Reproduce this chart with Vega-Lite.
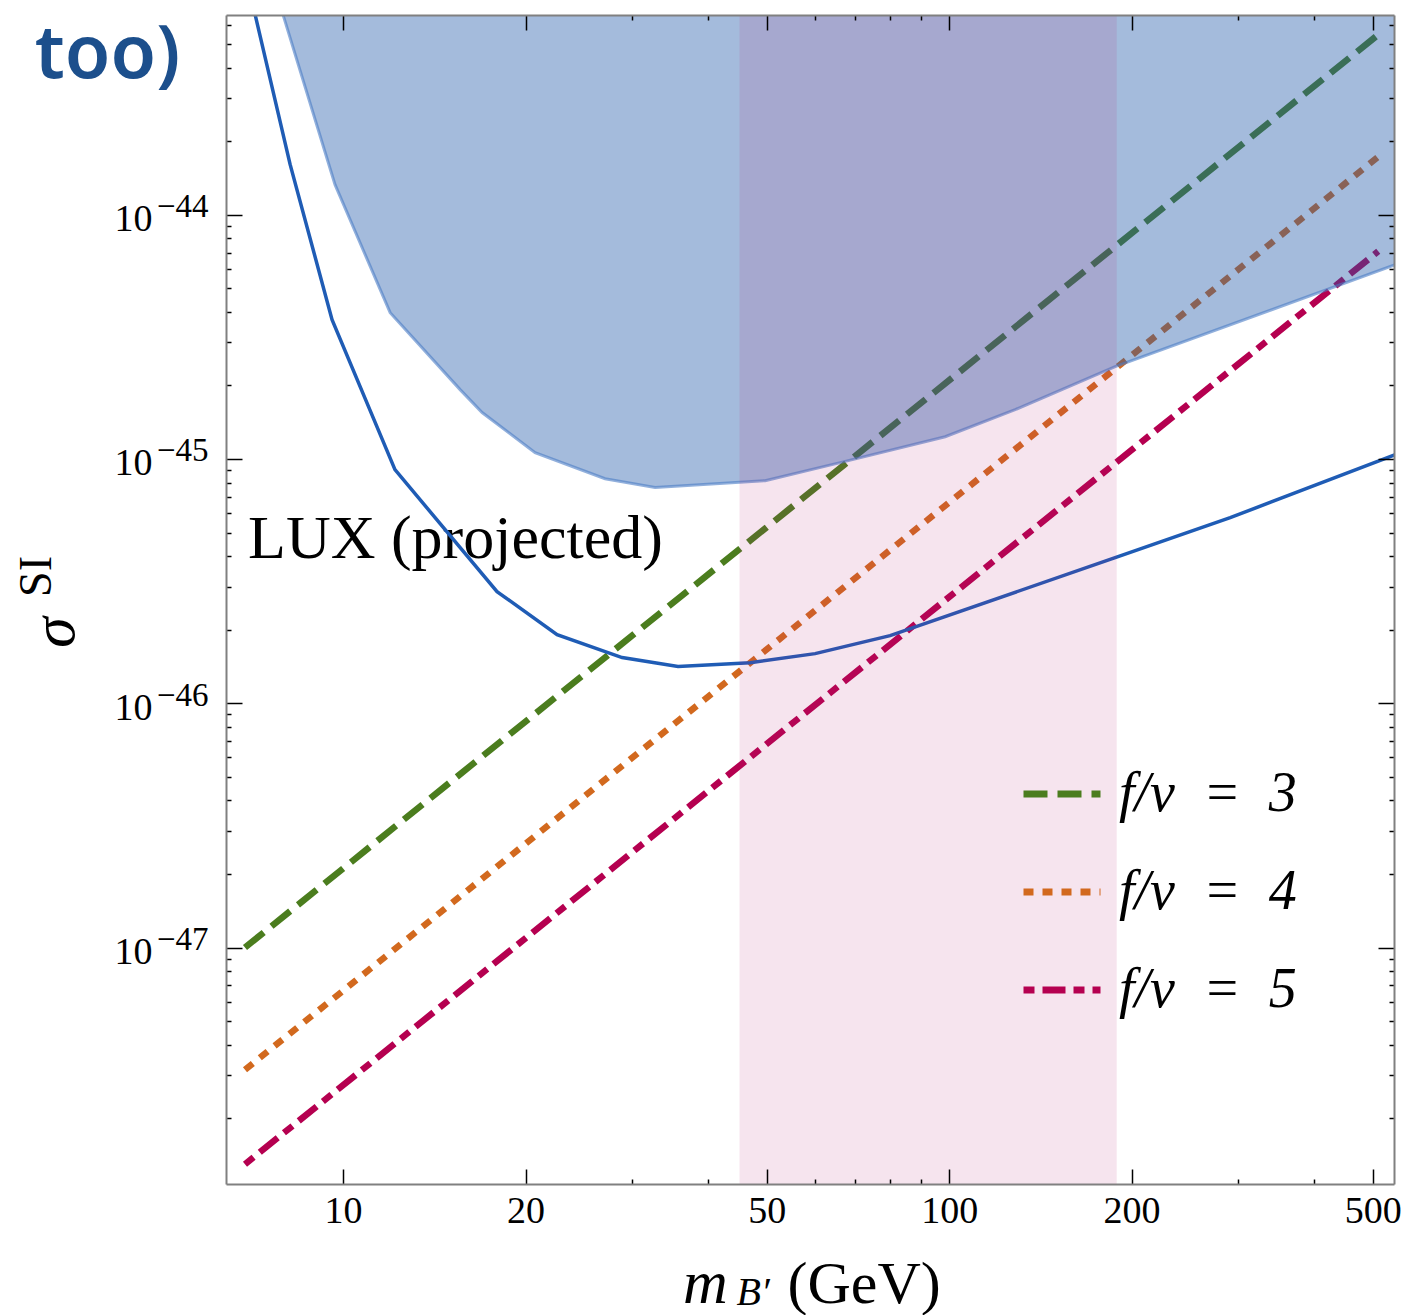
{
  "$schema": "https://vega.github.io/schema/vega-lite/v6.json",
  "width": 1168,
  "height": 1169,
  "autosize": {"type": "none"},
  "padding": {"left": 226, "top": 15, "right": 12, "bottom": 131},
  "background": "white",
  "config": {
    "view": {"stroke": null},
    "font": "Liberation Serif",
    "axis": {"grid": false},
    "legend": {"labelFont": "Liberation Serif", "labelFontSize": 56, "labelFontStyle": "italic", "labelColor": "black"}
  },
  "datasets": {
    "relic": [
      {"m": 6.89, "sigma": 1.0e-47, "series": "f/v\u2002=\u20023"},
      {"m": 510.5, "sigma": 5.46e-44, "series": "f/v\u2002=\u20023"},
      {"m": 6.89, "sigma": 3.16e-48, "series": "f/v\u2002=\u20024"},
      {"m": 510.5, "sigma": 1.726e-44, "series": "f/v\u2002=\u20024"},
      {"m": 6.89, "sigma": 1.297e-48, "series": "f/v\u2002=\u20025"},
      {"m": 510.5, "sigma": 7.08e-45, "series": "f/v\u2002=\u20025"}
    ],
    "bound": [
      {"m": 7.55, "sigma": 1.007e-43},
      {"m": 7.96, "sigma": 6.59e-44},
      {"m": 9.70, "sigma": 1.327e-44},
      {"m": 11.96, "sigma": 3.97e-45},
      {"m": 15.60, "sigma": 1.923e-45},
      {"m": 16.96, "sigma": 1.549e-45},
      {"m": 20.74, "sigma": 1.062e-45},
      {"m": 27.06, "sigma": 8.30e-46},
      {"m": 32.72, "sigma": 7.64e-46},
      {"m": 49.7, "sigma": 8.15e-46},
      {"m": 66.1, "sigma": 9.66e-46},
      {"m": 98.5, "sigma": 1.233e-45},
      {"m": 128.5, "sigma": 1.592e-45},
      {"m": 187.9, "sigma": 2.388e-45},
      {"m": 544.5, "sigma": 6.24e-45}
    ],
    "lux": [
      {"m": 6.88, "sigma": 1.007e-43},
      {"m": 7.16, "sigma": 6.59e-44},
      {"m": 8.18, "sigma": 1.603e-44},
      {"m": 9.59, "sigma": 3.72e-45},
      {"m": 12.18, "sigma": 9.04e-46},
      {"m": 17.95, "sigma": 2.864e-46},
      {"m": 22.55, "sigma": 1.91e-46},
      {"m": 28.87, "sigma": 1.538e-46},
      {"m": 35.7, "sigma": 1.413e-46},
      {"m": 46.96, "sigma": 1.466e-46},
      {"m": 60.1, "sigma": 1.596e-46},
      {"m": 79.9, "sigma": 1.892e-46},
      {"m": 187.9, "sigma": 3.945e-46},
      {"m": 290.9, "sigma": 5.75e-46},
      {"m": 544.5, "sigma": 1.042e-45}
    ],
    "band": [{"lo": 45.1, "hi": 189}],
    "luxLabel": [{"m": 6.97, "sigma": 3.945e-46, "text": "LUX (projected)"}],
    "note": [{"m": 3.10, "sigma": 3.64e-44, "text": "too)"}]
  },
  "layer": [
    {
      "data": {"name": "relic"},
      "mark": {"type": "line", "strokeWidth": 6.5, "strokeCap": "butt", "clip": true},
      "encoding": {
        "x": {
          "field": "m", "type": "quantitative",
          "scale": {"type": "log", "domain": [6.41, 542], "nice": false, "zero": false},
          "axis": {
            "orient": "bottom",
            "values": [10, 20, 30, 40, 50, 60, 70, 80, 90, 100, 200, 300, 400, 500],
            "labelExpr": "indexof([10, 20, 50, 100, 200, 500], datum.value) >= 0 ? format(datum.value, 'd') : ''",
            "tickSize": {"condition": {"test": "indexof([10, 20, 50, 100, 200, 500], datum.value) >= 0", "value": -15}, "value": -5},
            "tickColor": "black", "tickWidth": 1.5,
            "domainColor": "#808080", "domainWidth": 2,
            "labelFont": "Liberation Serif", "labelFontSize": 38, "labelColor": "black",
            "labelPadding": 23, "labelFlush": false, "labelOverlap": false, "labelBound": false,
            "title": "m", "titleFont": "Liberation Serif", "titleFontSize": 62, "titleFontStyle": "italic",
            "titleFontWeight": "normal", "titleColor": "black",
            "titleX": 479, "titleY": 118.5, "titleAlign": "center", "titleBaseline": "alphabetic",
            "zindex": 1
          }
        },
        "y": {
          "field": "sigma", "type": "quantitative",
          "scale": {"type": "log", "domain": [1.076e-48, 6.57e-44], "nice": false, "zero": false},
          "axis": {
            "orient": "left",
            "values": [2e-48, 3e-48, 4e-48, 5e-48, 6e-48, 7e-48, 8e-48, 9e-48,
                       1e-47, 2e-47, 3e-47, 4e-47, 5e-47, 6e-47, 7e-47, 8e-47, 9e-47,
                       1e-46, 2e-46, 3e-46, 4e-46, 5e-46, 6e-46, 7e-46, 8e-46, 9e-46,
                       1e-45, 2e-45, 3e-45, 4e-45, 5e-45, 6e-45, 7e-45, 8e-45, 9e-45,
                       1e-44, 2e-44, 3e-44, 4e-44, 5e-44, 6e-44],
            "labelExpr": "abs(log(datum.value) / LN10 - round(log(datum.value) / LN10)) < 0.001 ? '10' : ''",
            "tickSize": {"condition": {"test": "abs(log(datum.value) / LN10 - round(log(datum.value) / LN10)) < 0.001", "value": -16}, "value": -5},
            "tickColor": "black", "tickWidth": 1.5,
            "domainColor": "#808080", "domainWidth": 2,
            "labelFont": "Liberation Serif", "labelFontSize": 38, "labelColor": "black",
            "labelAlign": "right", "labelBaseline": "middle",
            "labelPadding": 90, "labelOffset": 5,
            "labelFlush": false, "labelOverlap": false, "labelBound": false,
            "title": "σ", "titleFont": "Liberation Serif", "titleFontSize": 62, "titleFontStyle": "italic",
            "titleFontWeight": "normal", "titleColor": "black", "titleAngle": 270,
            "titleX": -153, "titleY": 617, "titleAlign": "center", "titleBaseline": "alphabetic",
            "zindex": 1
          }
        },
        "color": {
          "field": "series", "type": "nominal",
          "scale": {"domain": ["f/v\u2002=\u20023", "f/v\u2002=\u20024", "f/v\u2002=\u20025"], "range": ["#4b7d1e", "#d2691e", "#b50050"]},
          "legend": {
            "title": null, "orient": "none", "legendX": 794, "legendY": 737,
            "symbolType": "stroke", "symbolSize": 5929, "symbolStrokeWidth": 7,
            "labelFont": "Liberation Serif", "labelFontSize": 56, "labelFontStyle": "italic",
            "labelColor": "black", "labelOffset": 15, "rowPadding": 28, "padding": 0,
            "labelLimit": 400, "symbolOpacity": 1
          }
        },
        "strokeDash": {
          "field": "series", "type": "nominal",
          "scale": {"domain": ["f/v\u2002=\u20023", "f/v\u2002=\u20024", "f/v\u2002=\u20025"], "range": [[24, 10], [10, 9], [11, 8, 23, 8]]},
          "legend": {
            "title": null, "orient": "none", "legendX": 794, "legendY": 737,
            "symbolType": "stroke", "symbolSize": 5929, "symbolStrokeWidth": 7,
            "labelFont": "Liberation Serif", "labelFontSize": 56, "labelFontStyle": "italic",
            "labelColor": "black", "labelOffset": 15, "rowPadding": 28, "padding": 0,
            "labelLimit": 400, "symbolOpacity": 1
          }
        }
      }
    },
    {
      "data": {"name": "bound"},
      "mark": {"type": "area", "color": "#235baa", "opacity": 0.41, "clip": true},
      "encoding": {
        "x": {
          "field": "m", "type": "quantitative",
          "scale": {"type": "log", "domain": [6.41, 542], "nice": false, "zero": false},
          "axis": {
            "orient": "top",
            "values": [10, 20, 30, 40, 50, 60, 70, 80, 90, 100, 200, 300, 400, 500],
            "labels": false, "title": null,
            "tickSize": {"condition": {"test": "indexof([10, 20, 50, 100, 200, 500], datum.value) >= 0", "value": -15}, "value": -5},
            "tickColor": "black", "tickWidth": 1.5,
            "domainColor": "#808080", "domainWidth": 2,
            "zindex": 1
          }
        },
        "y": {
          "field": "sigma", "type": "quantitative",
          "scale": {"type": "log", "domain": [1.076e-48, 6.57e-44], "nice": false, "zero": false},
          "axis": {
            "orient": "right",
            "values": [2e-48, 3e-48, 4e-48, 5e-48, 6e-48, 7e-48, 8e-48, 9e-48,
                       1e-47, 2e-47, 3e-47, 4e-47, 5e-47, 6e-47, 7e-47, 8e-47, 9e-47,
                       1e-46, 2e-46, 3e-46, 4e-46, 5e-46, 6e-46, 7e-46, 8e-46, 9e-46,
                       1e-45, 2e-45, 3e-45, 4e-45, 5e-45, 6e-45, 7e-45, 8e-45, 9e-45,
                       1e-44, 2e-44, 3e-44, 4e-44, 5e-44, 6e-44],
            "labels": false, "title": null,
            "tickSize": {"condition": {"test": "abs(log(datum.value) / LN10 - round(log(datum.value) / LN10)) < 0.001", "value": -16}, "value": -5},
            "tickColor": "black", "tickWidth": 1.5,
            "domainColor": "#808080", "domainWidth": 2,
            "zindex": 1
          }
        },
        "y2": {"datum": 1e-42}
      }
    },
    {
      "data": {"name": "bound"},
      "mark": {"type": "line", "color": "#4a7cc4", "opacity": 0.6, "strokeWidth": 3, "clip": true},
      "encoding": {
        "x": {
          "field": "m", "type": "quantitative",
          "scale": {"type": "log", "domain": [6.41, 542], "nice": false, "zero": false},
          "axis": {
            "orient": "bottom", "values": [], "labels": false, "ticks": false, "domain": false,
            "title": "(GeV)", "titleFont": "Liberation Serif", "titleFontSize": 60,
            "titleFontWeight": "normal", "titleColor": "black",
            "titleX": 561, "titleY": 118.5, "titleAlign": "left", "titleBaseline": "alphabetic"
          }
        },
        "y": {
          "field": "sigma", "type": "quantitative",
          "scale": {"type": "log", "domain": [1.076e-48, 6.57e-44], "nice": false, "zero": false},
          "axis": null
        }
      }
    },
    {
      "data": {"name": "luxLabel"},
      "mark": {"type": "text", "font": "Liberation Serif", "fontSize": 62, "align": "left", "baseline": "alphabetic", "color": "black"},
      "encoding": {
        "x": {"field": "m", "type": "quantitative", "scale": {"type": "log", "domain": [6.41, 542], "nice": false, "zero": false}, "axis": null},
        "y": {"field": "sigma", "type": "quantitative", "scale": {"type": "log", "domain": [1.076e-48, 6.57e-44], "nice": false, "zero": false}, "axis": null},
        "text": {"field": "text"}
      }
    },
    {
      "data": {"name": "lux"},
      "mark": {"type": "line", "color": "#1f5cb5", "strokeWidth": 3.5, "clip": true},
      "encoding": {
        "x": {
          "field": "m", "type": "quantitative",
          "scale": {"type": "log", "domain": [6.41, 542], "nice": false, "zero": false},
          "axis": {
            "orient": "bottom", "values": [], "labels": false, "ticks": false, "domain": false,
            "title": "B′", "titleFont": "Liberation Serif", "titleFontSize": 40, "titleFontStyle": "italic",
            "titleFontWeight": "normal", "titleColor": "black",
            "titleX": 510, "titleY": 120.5, "titleAlign": "left", "titleBaseline": "alphabetic"
          }
        },
        "y": {
          "field": "sigma", "type": "quantitative",
          "scale": {"type": "log", "domain": [1.076e-48, 6.57e-44], "nice": false, "zero": false},
          "axis": {
            "orient": "left",
            "values": [1e-47, 1e-46, 1e-45, 1e-44],
            "labelExpr": "'−' + format(-round(log(datum.value) / LN10), 'd')",
            "ticks": false, "domain": false,
            "labelFont": "Liberation Serif", "labelFontSize": 33, "labelColor": "black",
            "labelAlign": "right", "labelBaseline": "middle",
            "labelPadding": 18, "labelOffset": -8,
            "labelFlush": false, "labelOverlap": false, "labelBound": false,
            "title": "SI", "titleFont": "Liberation Serif", "titleFontSize": 46,
            "titleFontWeight": "normal", "titleColor": "black", "titleAngle": 270,
            "titleX": -176, "titleY": 561, "titleAlign": "center", "titleBaseline": "alphabetic",
            "zindex": 1
          }
        }
      }
    },
    {
      "data": {"name": "band"},
      "mark": {"type": "rect", "color": "#b41e71", "opacity": 0.12},
      "encoding": {
        "x": {"field": "lo", "type": "quantitative", "scale": {"type": "log", "domain": [6.41, 542], "nice": false, "zero": false}, "axis": null},
        "x2": {"field": "hi"}
      }
    },
    {
      "data": {"name": "note"},
      "mark": {"type": "text", "font": "Noto Sans", "fontSize": 74, "fontWeight": 600, "align": "left", "baseline": "alphabetic", "color": "#1c4f8c"},
      "encoding": {
        "x": {"field": "m", "type": "quantitative", "scale": {"type": "log", "domain": [6.41, 542], "nice": false, "zero": false}, "axis": null},
        "y": {"field": "sigma", "type": "quantitative", "scale": {"type": "log", "domain": [1.076e-48, 6.57e-44], "nice": false, "zero": false}, "axis": null},
        "text": {"field": "text"}
      }
    }
  ],
  "resolve": {"axis": {"x": "independent", "y": "independent"}}
}
